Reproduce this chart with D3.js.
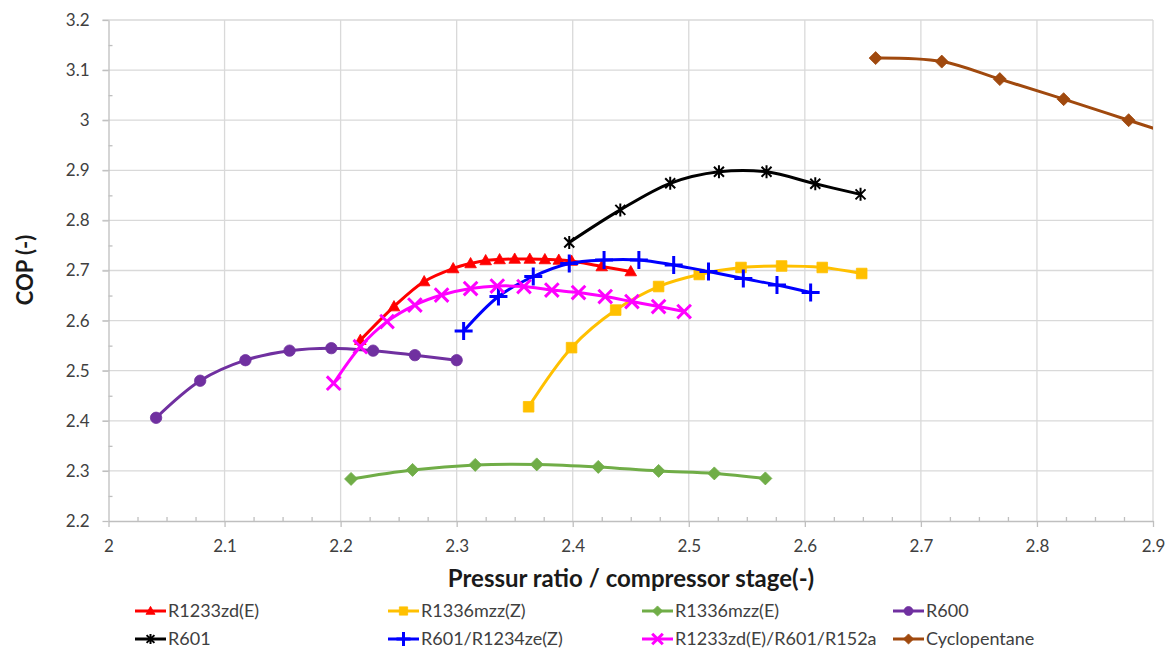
<!DOCTYPE html>
<html><head><meta charset="utf-8">
<script src="https://cdn.jsdelivr.net/npm/d3@7"></script>
<style>body{margin:0;background:#fff}svg{display:block}</style>
</head><body>
<svg id="chart" width="1172" height="649"></svg>
<script>
// ---------- data ----------
const xTicks = [2.0, 2.1, 2.2, 2.3, 2.4, 2.5, 2.6, 2.7, 2.8, 2.9];
const xTickLabels = ["2", "2.1", "2.2", "2.3", "2.4", "2.5", "2.6", "2.7", "2.8", "2.9"];
const yTicks = [2.2, 2.3, 2.4, 2.5, 2.6, 2.7, 2.8, 2.9, 3.0, 3.1, 3.2];
const yTickLabels = ["2.2", "2.3", "2.4", "2.5", "2.6", "2.7", "2.8", "2.9", "3", "3.1", "3.2"];

const seriesNames = ["R1233zd(E)", "R1336mzz(Z)", "R1336mzz(E)", "R600",
                     "R601", "R601/R1234ze(Z)", "R1233zd(E)/R601/R152a", "Cyclopentane"];

const r1233zdE_x = [2.217, 2.246, 2.272, 2.297, 2.312, 2.325, 2.337, 2.350, 2.363, 2.376, 2.388, 2.399, 2.425, 2.450];
const r1233zdE_y = [2.561, 2.628, 2.678, 2.704, 2.714, 2.720, 2.722, 2.723, 2.723, 2.722, 2.721, 2.719, 2.708, 2.698];

const r1336mzzZ_x = [2.362, 2.399, 2.437, 2.474, 2.509, 2.545, 2.580, 2.615, 2.649];
const r1336mzzZ_y = [2.428, 2.546, 2.621, 2.668, 2.692, 2.706, 2.709, 2.706, 2.694];

const r1336mzzE_x = [2.209, 2.262, 2.316, 2.369, 2.422, 2.474, 2.522, 2.566];
const r1336mzzE_y = [2.284, 2.302, 2.312, 2.313, 2.308, 2.300, 2.295, 2.285];

const r600_x = [2.041, 2.079, 2.118, 2.156, 2.192, 2.228, 2.264, 2.300];
const r600_y = [2.406, 2.480, 2.521, 2.540, 2.545, 2.540, 2.531, 2.521];

const r601_x = [2.397, 2.441, 2.484, 2.526, 2.567, 2.609, 2.648];
const r601_y = [2.756, 2.821, 2.874, 2.897, 2.897, 2.873, 2.852];

const r601r1234zeZ_x = [2.306, 2.336, 2.366, 2.397, 2.427, 2.457, 2.487, 2.517, 2.547, 2.576, 2.605];
const r601r1234zeZ_y = [2.579, 2.648, 2.688, 2.714, 2.721, 2.721, 2.711, 2.698, 2.684, 2.671, 2.656];

const blend_x = [2.194, 2.217, 2.240, 2.264, 2.287, 2.312, 2.335, 2.358, 2.382, 2.405, 2.428, 2.451, 2.474, 2.496];
const blend_y = [2.475, 2.548, 2.598, 2.631, 2.651, 2.664, 2.669, 2.668, 2.661, 2.656, 2.648, 2.638, 2.628, 2.618];

const cyclopentane_x = [2.661, 2.718, 2.768, 2.823, 2.879, 2.935];
const cyclopentane_y = [3.124, 3.117, 3.082, 3.042, 3.000, 2.958];

const seriesX = [r1233zdE_x, r1336mzzZ_x, r1336mzzE_x, r600_x, r601_x, r601r1234zeZ_x, blend_x, cyclopentane_x];
const seriesY = [r1233zdE_y, r1336mzzZ_y, r1336mzzE_y, r600_y, r601_y, r601r1234zeZ_y, blend_y, cyclopentane_y];

// ---------- styles ----------
const colors = ["#FF0000", "#FFC000", "#70AD47", "#7030A0", "#000000", "#0000FF", "#FF00FF", "#A0490E"];
const markers = ["triangle", "square", "diamond", "circle", "star", "plus", "times", "diamond"];
const FONT = "Lato, 'Open Sans', sans-serif";

const margin = {left: 108.5, right: 1153, top: 20, bottom: 521};
const svg = d3.select("#chart");

const x = d3.scaleLinear().domain([2.0, 2.9]).range([margin.left, margin.right]);
const y = d3.scaleLinear().domain([2.2, 3.2]).range([margin.bottom, margin.top]);

function markerShape(type, s) {
  switch (type) {
    case "triangle": return {d: `M0,${-6*s}L${5.8*s},${4.3*s}L${-5.8*s},${4.3*s}Z`, fill: true};
    case "square": return {d: `M${-5.3*s},${-5.3*s}h${10.6*s}v${10.6*s}h${-10.6*s}Z`, fill: true};
    case "diamond": return {d: `M0,${-6.5*s}L${6.5*s},0L0,${6.5*s}L${-6.5*s},0Z`, fill: true};
    case "circle": { const r = 5.7*s; return {d: `M${r},0A${r},${r},0,1,1,${-r},0A${r},${r},0,1,1,${r},0Z`, fill: true}; }
    case "star": { const a = 5*s, b = 6.5*s; return {d: `M${-a},${-a}L${a},${a}M${-a},${a}L${a},${-a}M0,${-b}V${b}`, fill: false, sw: 2}; }
    case "plus": { const a = 9*s; return {d: `M${-a},0H${a}M0,${-a}V${a}`, fill: false, sw: 3}; }
    case "times": { const a = 6.8*s; return {d: `M${-a},${-a}L${a},${a}M${-a},${a}L${a},${-a}`, fill: false, sw: 3}; }
  }
}

// ---------- gridlines ----------
const grid = svg.append("g");
grid.selectAll("line.gx").data(xTicks.slice(1)).join("line")
  .attr("x1", d => x(d)).attr("x2", d => x(d))
  .attr("y1", margin.top).attr("y2", margin.bottom)
  .attr("stroke", "#d9d9d9").attr("stroke-width", 1.3);
grid.selectAll("line.gy").data(yTicks.slice(1)).join("line")
  .attr("x1", margin.left - 6).attr("x2", margin.right)
  .attr("y1", d => y(d)).attr("y2", d => y(d))
  .attr("stroke", "#d9d9d9").attr("stroke-width", 1.3);

// ---------- axes ----------
const xMinor = d3.range(0, 37).map(i => 2.0 + i * 0.025).filter((d, i) => i % 4 !== 0);
const yMinor = d3.range(0, 10).map(i => 2.25 + i * 0.1);

const xAxisG = svg.append("g").attr("transform", `translate(0,${margin.bottom})`)
  .call(d3.axisBottom(x).tickValues(xTicks).tickFormat((d, i) => xTickLabels[i]).tickSize(6).tickSizeOuter(0).tickPadding(13));
const xMinorG = svg.append("g").attr("transform", `translate(0,${margin.bottom})`)
  .call(d3.axisTop(x).tickValues(xMinor).tickFormat("").tickSize(4).tickSizeOuter(0));
const yAxisG = svg.append("g").attr("transform", `translate(${margin.left},0)`)
  .call(d3.axisLeft(y).tickValues(yTicks).tickFormat((d, i) => yTickLabels[i]).tickSize(6).tickSizeOuter(0).tickPadding(13));
const yMinorG = svg.append("g").attr("transform", `translate(${margin.left},0)`)
  .call(d3.axisRight(y).tickValues(yMinor).tickFormat("").tickSize(4).tickSizeOuter(0));

[xAxisG, xMinorG, yAxisG, yMinorG].forEach(g => {
  g.select(".domain").attr("stroke", "#bfbfbf").attr("stroke-width", 1.3);
  g.selectAll(".tick line").attr("stroke", "#bfbfbf").attr("stroke-width", 1.3);
  g.selectAll("text").attr("font-family", FONT).attr("font-size", 17).attr("fill", "#404040");
});
yMinorG.select(".domain").remove();
xMinorG.select(".domain").remove();

// ---------- axis titles ----------
svg.append("text").attr("x", 631).attr("y", 587).attr("text-anchor", "middle")
  .attr("font-family", FONT).attr("font-weight", "bold").attr("font-size", 24).attr("fill", "#1a1a1a")
  .text("Pressur ratio / compressor stage(-)");
svg.append("text").attr("transform", "translate(33,270) rotate(-90)").attr("text-anchor", "middle")
  .attr("font-family", FONT).attr("font-weight", "bold").attr("font-size", 22).attr("fill", "#1a1a1a")
  .text("COP (-)");

// ---------- series ----------
svg.append("clipPath").attr("id", "plotClip").append("rect")
  .attr("x", margin.left).attr("y", margin.top - 10)
  .attr("width", margin.right - margin.left).attr("height", margin.bottom - margin.top + 10);

const plot = svg.append("g").attr("clip-path", "url(#plotClip)");
const line = d3.line().x(d => x(d[0])).y(d => y(d[1])).curve(d3.curveCatmullRom.alpha(0.5));

seriesNames.forEach((name, si) => {
  const pts = seriesX[si].map((v, i) => [v, seriesY[si][i]]);
  const g = plot.append("g");
  g.append("path").datum(pts).attr("d", line)
    .attr("fill", "none").attr("stroke", colors[si]).attr("stroke-width", 3)
    .attr("stroke-linejoin", "round").attr("stroke-linecap", "round");
  const m = markerShape(markers[si], 1);
  g.selectAll("path.mk").data(pts).join("path").attr("class", "mk")
    .attr("transform", d => `translate(${x(d[0])},${y(d[1])})`)
    .attr("d", m.d)
    .attr("fill", m.fill ? colors[si] : "none")
    .attr("stroke", colors[si])
    .attr("stroke-width", m.fill ? 0.8 : m.sw)
    .attr("stroke-linejoin", "miter");
});

// ---------- legend ----------
const legend = svg.append("g");
const colX = [135, 388, 642, 893];
const rowY = [611, 639];
seriesNames.forEach((name, si) => {
  const cx = colX[si % 4], cy = rowY[Math.floor(si / 4)];
  const g = legend.append("g").attr("transform", `translate(${cx},${cy})`);
  g.append("line").attr("x1", 0).attr("x2", 31).attr("y1", 0).attr("y2", 0)
    .attr("stroke", colors[si]).attr("stroke-width", 3);
  const m = markerShape(markers[si], 0.78);
  g.append("path").attr("transform", "translate(15.5,0)").attr("d", m.d)
    .attr("fill", m.fill ? colors[si] : "none").attr("stroke", colors[si])
    .attr("stroke-width", m.fill ? 0.8 : m.sw);
  g.append("text").attr("x", 33).attr("y", 0).attr("dy", "0.35em")
    .attr("font-family", FONT).attr("font-size", 18).attr("fill", "#404040").text(name);
});
</script>
</body></html>
